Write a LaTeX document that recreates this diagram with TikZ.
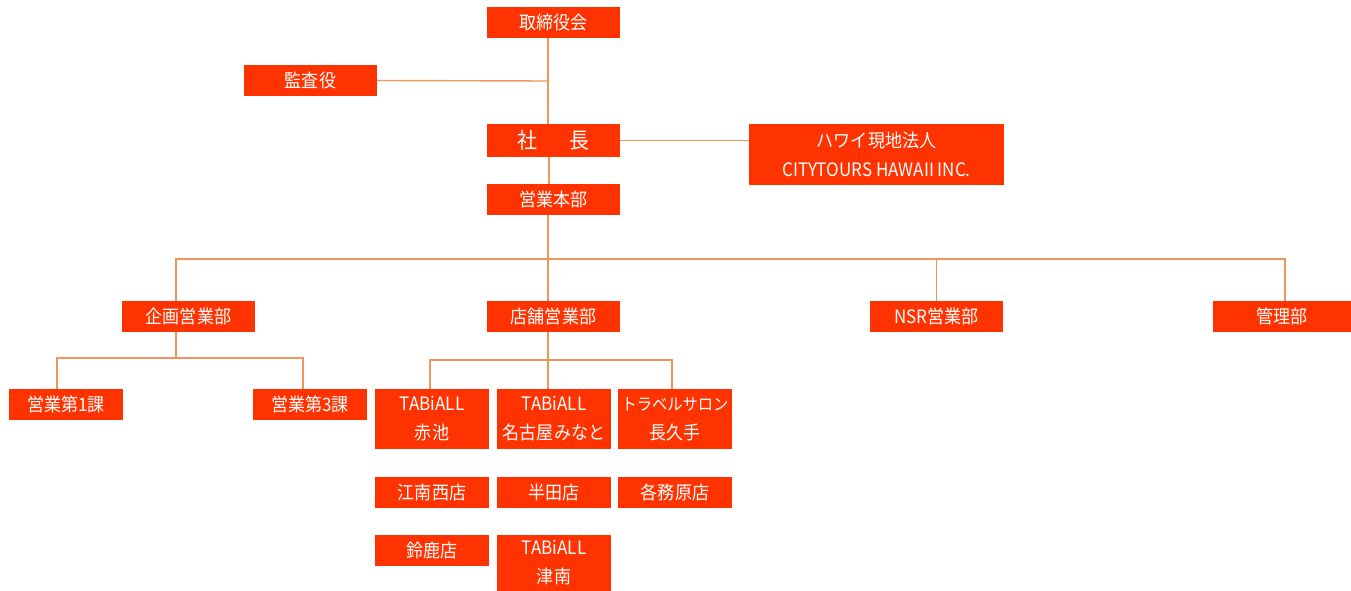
\documentclass[tikz,border=0pt]{standalone}
\usepackage{fontspec}
\setmainfont{Noto Sans CJK JP}[FakeStretch=0.92]
\begin{document}
\begin{tikzpicture}[x=1pt,y=-1pt,
  box/.style={fill=boxred,draw=none,text=white,inner sep=0pt,minimum width=133pt,minimum height=31pt,align=center,font=\fontsize{18.5}{29}\selectfont},
  sbox/.style={box,minimum width=114pt},
  conn/.style={draw=linecol,line width=1.4pt}]
\definecolor{boxred}{RGB}{255,51,0}
\definecolor{linecol}{RGB}{240,150,90}
\useasboundingbox (0,0) rectangle (1351,591);
% nodes
\node[box] (top) at (553.5,22.5) {取締役会};
\node[box] (kansa) at (310.5,80.5) {監査役};
\node[box,minimum height=33pt,font=\fontsize{21.7}{24}\selectfont] (shacho) at (553.5,140.5) {社\hspace{32pt}長};
\node[box,minimum width=255pt,minimum height=61pt] (hawaii) at (876.5,154.5) {ハワイ現地法人\\CITYTOURS HAWAII INC.};
\node[box] (honbu) at (553.5,199.5) {営業本部};
\node[box] (kikaku) at (188.5,316.5) {企画営業部};
\node[box] (tenpo) at (553.5,316.5) {店舗営業部};
\node[box] (nsr) at (936.5,316.5) {NSR営業部};
\node[box,minimum width=138pt] (kanri) at (1282,316.5) {管理部};
\node[sbox] (ka1) at (66,404.5) {営業第1課};
\node[sbox] (ka3) at (310,404.5) {営業第3課};
\node[sbox,minimum height=60pt] (akaike) at (432,419) {TABiALL\\赤池};
\node[sbox,minimum height=60pt] (minato) at (554,419) {TABiALL\\名古屋みなと};
\node[sbox,minimum height=60pt] (salon) at (675,419) {{\fontsize{16.6}{29}\selectfont トラベルサロン}\\長久手};
\node[sbox] (konan) at (432,492.5) {江南西店};
\node[sbox] (handa) at (554,492.5) {半田店};
\node[sbox] (kakami) at (675,492.5) {各務原店};
\node[sbox] (suzuka) at (432,550.5) {鈴鹿店};
\node[sbox,minimum height=56pt] (tsunan) at (554,563) {TABiALL\\津南};
% junctions
\coordinate (j1) at (548,81);
\coordinate (j2) at (548,259);
\coordinate (j3) at (176,358);
\coordinate (j4) at (548,360);
% connectors
\draw[conn] ([xshift=-5.5pt]top.south) -- ([xshift=-5.5pt]shacho.north);
\draw[conn] (kansa.east) -- (j1);
\draw[conn] (shacho.east) -- (hawaii.west |- shacho.east);
\draw[conn] ([xshift=-4.5pt]shacho.south) -- ([xshift=-4.5pt]honbu.north);
\draw[conn] ([xshift=-5.5pt]honbu.south) -- (j2);
\draw[conn] (kikaku.north -| j3) |- ([xshift=3pt]kanri.north |- j2) -- ([xshift=3pt]kanri.north);
\draw[conn] (j2) -- ([xshift=-5.5pt]tenpo.north);
\draw[conn] (nsr.north |- j2) -- (nsr.north);
\draw[conn] ([xshift=-12.5pt]kikaku.south) -- (j3);
\draw[conn] ([xshift=-9pt]ka1.north) |- (j3) -| ([xshift=-7pt]ka3.north);
\draw[conn] ([xshift=-5.5pt]tenpo.south) -- ([xshift=-6pt]minato.north);
\draw[conn] ([xshift=-2pt]akaike.north) |- (j4) -| ([xshift=-3pt]salon.north);
\end{tikzpicture}
\end{document}
